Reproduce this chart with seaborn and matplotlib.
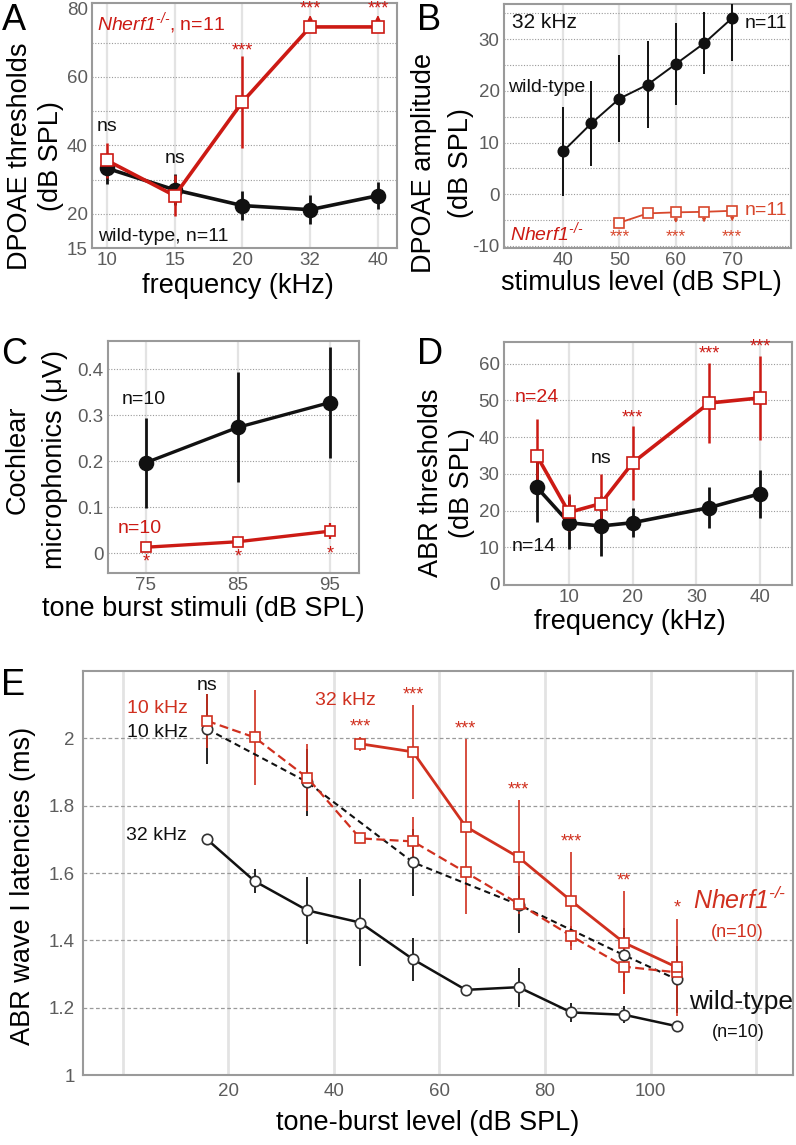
import numpy as np
import matplotlib
matplotlib.use("Agg")
import matplotlib.pyplot as plt
from matplotlib.ticker import MultipleLocator, FixedLocator
import seaborn as sns

# ---------------- data ----------------
# Panel A: DPOAE thresholds
a_freq = ['10', '15', '20', '32', '40']
a_wt = [33.3, 27.0, 22.4, 21.2, 25.3]
a_wt_err = [4.6, 4.5, 4.3, 4.2, 4.0]
a_ko = [35.6, 25.3, 52.7, 74.6, 74.6]
a_ko_err = [5.0, 6.0, 13.5, 0.0, 0.0]
a_ko_censored = [0, 0, 0, 1, 1]
a_sig = ['ns', 'ns', '***', '***', '***']

# Panel B: DPOAE amplitude at 32 kHz
b_level = [40, 45, 50, 55, 60, 65, 70]
b_wt = [8.3, 13.7, 18.5, 21.2, 25.2, 29.2, 34.1]
b_wt_err = [8.6, 8.2, 8.4, 8.4, 8.0, 6.0, 8.4]
b_ko_level = [50, 55, 60, 65, 70]
b_ko = [-5.5, -3.7, -3.5, -3.4, -3.2]
b_ko_censored = [0, 0, 1, 1, 1]
b_sig = ['***', '', '***', '', '***']

# Panel C: cochlear microphonics
c_level = ['75', '85', '95']
c_wt = [0.197, 0.274, 0.328]
c_wt_err = [0.098, 0.120, 0.120]
c_ko = [0.013, 0.025, 0.048]
c_ko_err = [0.0, 0.0, 0.018]
c_sig = ['*', '*', '*']

# Panel D: ABR thresholds
d_freq = [5, 10, 15, 20, 32, 40]
d_wt = [26.3, 16.7, 15.8, 16.7, 20.8, 24.6]
d_wt_err = [9.4, 7.2, 8.2, 4.0, 5.6, 6.5]
d_ko = [34.9, 19.5, 21.9, 33.0, 49.3, 50.7]
d_ko_err = [10.0, 5.0, 8.0, 10.0, 11.0, 11.4]
d_sig = ['', '', 'ns', '***', '***', '***']

# Panel E: ABR wave I latencies
e_level = [16, 25, 35, 45, 55, 65, 75, 85, 95, 105]
e_wt32 = [1.700, 1.576, 1.489, 1.453, 1.344, 1.253, 1.261, 1.186, 1.179, 1.145]
e_wt32_err = [0.0, 0.035, 0.10, 0.13, 0.064, 0.0, 0.058, 0.027, 0.025, 0.0]
e_wt10_level = [16, 35, 55, 75, 95, 105]
e_wt10 = [2.028, 1.870, 1.632, 1.506, 1.356, 1.284]
e_wt10_err = [0.105, 0.10, 0.10, 0.085, 0.08, 0.10]
e_ko10 = [2.052, 2.003, 1.883, 1.703, 1.694, 1.602, 1.509, 1.413, 1.322, 1.305]
e_ko10_err = [0.08, 0.14, 0.10, 0.0, 0.074, 0.0, 0.0, 0.03, 0.08, 0.0]
e_ko32_level = [45, 55, 65, 75, 85, 95, 105]
e_ko32 = [1.984, 1.960, 1.738, 1.647, 1.517, 1.393, 1.320]
e_ko32_err = [0.02, 0.14, 0.26, 0.17, 0.145, 0.153, 0.145]
e_ko32_sig = ['***', '***', '***', '***', '***', '**', '*']

# ---------------- style ----------------
sns.set_theme(style="white")
plt.rcParams['font.family'] = ['Liberation Sans', 'DejaVu Sans']
plt.rcParams['mathtext.fontset'] = 'custom'
plt.rcParams['mathtext.rm'] = 'Liberation Sans:italic'
plt.rcParams['mathtext.it'] = 'Liberation Sans:italic'
plt.rcParams['mathtext.default'] = 'it'
plt.rcParams['axes.unicode_minus'] = False

RED = '#cc1a14'
RED_B = '#d8472c'
RED_E = '#d0301f'
BLACK = '#111111'
TICK = '#5c5c5c'
SPINE = '#9a9a9a'
HGRID = '#9a9a9a'
VGRID = '#e3e3e3'
LAB = 19.5
TCK = 13.5
ANN = 13
KO = r'$Nherf1^{\text{-/-}}$'

fig = plt.figure(figsize=(7.96, 11.45), dpi=100)


def base(ax, pad=3):
    for s in ax.spines.values():
        s.set_visible(True)
        s.set_color(SPINE)
        s.set_linewidth(1.5)
    ax.tick_params(axis='both', length=0, labelsize=TCK, labelcolor=TICK, pad=pad)
    ax.set_facecolor('white')


def grids(ax, hdash=(0, (1, 1.5)), hw=0.8, vw=1.6):
    ax.grid(False)
    ax.yaxis.remove_overlapping_locs = False
    ax.grid(True, axis='y', which='minor', color=HGRID, linestyle=hdash, linewidth=hw)
    ax.grid(True, axis='x', which='major', color=VGRID, linestyle='-', linewidth=vw)
    ax.tick_params(axis='y', which='minor', length=0)
    ax.set_axisbelow(True)


def series(ax, x, y, err, color, marker, ms, lw, mfc, mec=None, ls='-', elw=1.6, z=3):
    ax.errorbar(x, y, yerr=err, fmt='none', ecolor=color, elinewidth=elw, capsize=0, zorder=z)
    sns.lineplot(x=x, y=y, ax=ax, color=color, marker=marker, markersize=ms,
                 linewidth=lw, linestyle=ls, markerfacecolor=mfc,
                 markeredgecolor=mec if mec else color, markeredgewidth=1.2,
                 sort=False, zorder=z + 1, legend=False)


def ylab(ax, text, x, y, ls=1.2):
    ax.set_ylabel(text, fontsize=LAB, color='black', va='center', ha='center',
                  multialignment='center', linespacing=ls)
    ax.yaxis.set_label_coords(x, y)


def xlab(ax, text, x, y):
    ax.set_xlabel(text, fontsize=LAB, color='black', va='center', ha='center')
    ax.xaxis.set_label_coords(x, y)


def mark(ax, x, y, text, dy, color, fs=ANN, va='baseline'):
    ax.annotate(text, xy=(x, y), xytext=(0, dy), textcoords='offset points',
                ha='center', va=va, color=color, fontsize=fs, annotation_clip=False, zorder=6)


# ================= Panel A =================
axA = fig.add_axes([0.1156, 0.7834, 0.383, 0.214])
base(axA)
xa = np.arange(len(a_freq))
series(axA, xa, a_wt, a_wt_err, BLACK, 'o', 10, 2.6, BLACK, elw=2.0)
series(axA, xa, a_ko, a_ko_err, RED, 's', 8.5, 2.6, 'white', elw=1.8)
axA.set_xlim(-0.22, 4.28)
axA.set_ylim(10, 81.6)
axA.set_xticks(xa)
axA.set_xticklabels(a_freq)
axA.yaxis.set_major_locator(FixedLocator([10, 20, 40, 60, 80]))
axA.set_yticklabels(['15', '20', '40', '60', '80'])
axA.yaxis.set_minor_locator(FixedLocator([20, 30, 40, 50, 60, 70]))
grids(axA)
for i in range(len(a_freq)):
    top = a_ko[i] + a_ko_err[i]
    if a_ko_censored[i]:
        axA.annotate('', xy=(xa[i], a_ko[i] + 4.3), xytext=(xa[i], a_ko[i] + 1.1),
                     arrowprops=dict(arrowstyle='-|>', color=RED, lw=1.2, mutation_scale=6),
                     annotation_clip=False)
        mark(axA, xa[i], a_ko[i], a_sig[i], 10, RED)
    elif a_sig[i] == 'ns':
        mark(axA, xa[i], top, 'ns', 9, BLACK, fs=14)
    else:
        mark(axA, xa[i], top, a_sig[i], 0, RED)
axA.text(0.016, 0.918, KO + ', n=11', transform=axA.transAxes, color=RED, fontsize=14,
         ha='left', va='center')
axA.text(0.02, 0.045, 'wild-type, n=11', transform=axA.transAxes, color=BLACK, fontsize=14,
         ha='left', va='center')
ylab(axA, 'DPOAE thresholds\n(dB SPL)', -0.185, 0.375, ls=1.25)
xlab(axA, 'frequency (kHz)', 0.479, -0.155)

# ================= Panel B =================
axB = fig.add_axes([0.633, 0.7834, 0.3606, 0.2131])
base(axB)
series(axB, b_level, b_wt, b_wt_err, BLACK, 'o', 7.5, 1.4, BLACK, elw=1.4)
series(axB, b_ko_level, b_ko, None, RED_B, 's', 6.5, 1.3, 'white', elw=1.2)
axB.set_xlim(29.5, 80.4)
axB.set_ylim(-10.4, 36.8)
axB.set_xticks([40, 50, 60, 70])
axB.yaxis.set_major_locator(FixedLocator([-10, 0, 10, 20, 30]))
axB.yaxis.set_minor_locator(MultipleLocator(5))
grids(axB)
for i, lv in enumerate(b_ko_level):
    if b_ko_censored[i]:
        axB.annotate('', xy=(lv, b_ko[i] - 2.6), xytext=(lv, b_ko[i] - 0.6),
                     arrowprops=dict(arrowstyle='-|>', color=RED_B, lw=0.9, mutation_scale=5))
    if b_sig[i]:
        axB.text(lv, 0.028, b_sig[i], transform=axB.get_xaxis_transform(), color=RED_B,
                 fontsize=12.5, ha='center', va='baseline')
axB.text(0.028, 0.926, '32 kHz', transform=axB.transAxes, fontsize=15, color=BLACK,
         ha='left', va='center')
axB.text(0.986, 0.922, 'n=11', transform=axB.transAxes, fontsize=14, color=BLACK,
         ha='right', va='center')
axB.text(0.014, 0.656, 'wild-type', transform=axB.transAxes, fontsize=14, color=BLACK,
         ha='left', va='center')
axB.text(0.986, 0.152, 'n=11', transform=axB.transAxes, fontsize=14, color=RED_B,
         ha='right', va='center')
axB.text(0.021, 0.064, KO, transform=axB.transAxes, fontsize=14, color=RED,
         ha='left', va='center')
ylab(axB, 'DPOAE amplitude\n(dB SPL)', -0.213, 0.35, ls=1.55)
xlab(axB, 'stimulus level (dB SPL)', 0.478, -0.145)

# ================= Panel C =================
axC = fig.add_axes([0.1357, 0.4996, 0.3153, 0.2026])
base(axC)
xc = np.arange(len(c_level))
series(axC, xc, c_wt, c_wt_err, BLACK, 'o', 10, 2.4, BLACK, elw=2.0)
series(axC, xc, c_ko, c_ko_err, RED, 's', 7.5, 2.4, 'white', elw=1.6)
axC.set_xlim(-0.41, 2.315)
axC.set_ylim(-0.043, 0.462)
axC.set_xticks(xc)
axC.set_xticklabels(c_level)
axC.yaxis.set_major_locator(FixedLocator([0, 0.1, 0.2, 0.3, 0.4]))
axC.set_yticklabels(['0', '0.1', '0.2', '0.3', '0.4'])
axC.yaxis.set_minor_locator(FixedLocator([0, 0.1, 0.2, 0.3, 0.4]))
grids(axC)
for i in range(len(c_level)):
    mark(axC, xc[i], c_ko[i] - c_ko_err[i], c_sig[i], -14, RED)
axC.text(0.056, 0.746, 'n=10', transform=axC.transAxes, fontsize=14, color=BLACK,
         ha='left', va='center')
axC.text(0.04, 0.19, 'n=10', transform=axC.transAxes, fontsize=14, color=RED,
         ha='left', va='center')
ylab(axC, 'microphonics (\u03bcV)', -0.21, 0.49)
axC.text(-0.36, 0.49, 'Cochlear', transform=axC.transAxes, rotation=90, fontsize=LAB,
         color='black', ha='center', va='center', rotation_mode='anchor')
xlab(axC, 'tone burst stimuli (dB SPL)', 0.38, -0.155)

# ================= Panel D =================
axD = fig.add_axes([0.633, 0.489, 0.3618, 0.2122])
base(axD)
series(axD, d_freq, d_wt, d_wt_err, BLACK, 'o', 10, 2.6, BLACK, elw=2.0)
series(axD, d_freq, d_ko, d_ko_err, RED, 's', 8.5, 2.6, 'white', elw=1.8)
axD.set_xlim(-0.2, 45.0)
axD.set_ylim(-0.3, 65.9)
axD.set_xticks([10, 20, 30, 40])
axD.yaxis.set_major_locator(MultipleLocator(10))
axD.yaxis.set_minor_locator(FixedLocator([10, 20, 30, 40, 50, 60]))
grids(axD)
for i, f in enumerate(d_freq):
    if d_sig[i] == 'ns':
        mark(axD, f, d_ko[i] + d_ko_err[i], 'ns', 8, BLACK, fs=14)
    elif d_sig[i]:
        mark(axD, f, d_ko[i] + d_ko_err[i], d_sig[i], 3, RED)
axD.text(0.038, 0.774, 'n=24', transform=axD.transAxes, fontsize=14, color=RED,
         ha='left', va='center')
axD.text(0.028, 0.16, 'n=14', transform=axD.transAxes, fontsize=14, color=BLACK,
         ha='left', va='center')
ylab(axD, 'ABR thresholds\n(dB SPL)', -0.2, 0.42, ls=1.25)
xlab(axD, 'frequency (kHz)', 0.437, -0.15)

# ================= Panel E =================
axE = fig.add_axes([0.1043, 0.0611, 0.892, 0.3528])
base(axE, pad=6)
series(axE, e_level, e_wt32, e_wt32_err, BLACK, 'o', 7.5, 1.8, 'white', mec='#333333', elw=1.3)
series(axE, e_wt10_level, e_wt10, e_wt10_err, BLACK, 'o', 7.5, 1.5, 'white', mec='#333333',
       ls=(0, (3, 2)), elw=1.3)
series(axE, e_level, e_ko10, e_ko10_err, RED_E, 's', 7.5, 1.6, 'white', ls=(0, (4, 2)), elw=1.2)
series(axE, e_ko32_level, e_ko32, e_ko32_err, RED_E, 's', 7.5, 2.0, 'white', elw=1.2)
axE.set_xlim(-7.5, 127)
axE.set_ylim(1.0, 2.2)
axE.set_xticks([0, 20, 40, 60, 80, 100, 120])
axE.set_xticklabels(['', '20', '40', '60', '80', '100', ''])
axE.yaxis.set_major_locator(FixedLocator([1.0, 1.2, 1.4, 1.6, 1.8, 2.0]))
axE.set_yticklabels(['1', '1.2', '1.4', '1.6', '1.8', '2'])
axE.yaxis.set_minor_locator(FixedLocator([1.2, 1.4, 1.6, 1.8, 2.0]))
grids(axE, hdash=(0, (3, 2)), hw=0.9, vw=2.0)
for i, lv in enumerate(e_ko32_level):
    mark(axE, lv, e_ko32[i] + e_ko32_err[i], e_ko32_sig[i], 4, RED_E)
mark(axE, e_level[0], e_ko10[0] + e_ko10_err[0], 'ns', 3, BLACK, fs=14)
axE.text(0.062, 0.908, '10 kHz', transform=axE.transAxes, fontsize=14, color=RED_E,
         ha='left', va='center')
axE.text(0.062, 0.847, '10 kHz', transform=axE.transAxes, fontsize=14, color=BLACK,
         ha='left', va='center')
axE.text(0.327, 0.926, '32 kHz', transform=axE.transAxes, fontsize=14, color=RED_E,
         ha='left', va='center')
axE.text(0.061, 0.592, '32 kHz', transform=axE.transAxes, fontsize=14, color=BLACK,
         ha='left', va='center')
axE.text(0.859, 0.433, KO, transform=axE.transAxes, fontsize=18, color=RED_E,
         ha='left', va='center')
axE.text(0.921, 0.354, '(n=10)', transform=axE.transAxes, fontsize=13, color=RED_E,
         ha='center', va='center')
axE.text(0.854, 0.181, 'wild-type', transform=axE.transAxes, fontsize=19, color=BLACK,
         ha='left', va='center')
axE.text(0.923, 0.106, '(n=10)', transform=axE.transAxes, fontsize=13, color=BLACK,
         ha='center', va='center')
ylab(axE, 'ABR wave I latencies (ms)', -0.0845, 0.468)
xlab(axE, 'tone-burst level (dB SPL)', 0.486, -0.119)

# ---------------- panel letters ----------------
for lbl, x, y in [('A', 0.018, 0.9825), ('B', 0.539, 0.9825), ('C', 0.018, 0.69),
                  ('D', 0.540, 0.69), ('E', 0.016, 0.4017)]:
    fig.text(x, y, lbl, fontsize=26, color='black', ha='center', va='center')

fig.savefig('out.png', dpi=100, facecolor='white')
